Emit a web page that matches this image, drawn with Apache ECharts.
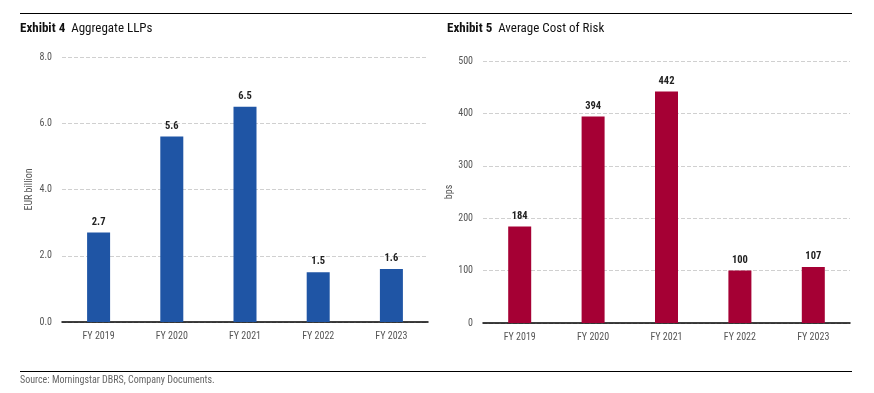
<!DOCTYPE html>
<html><head><meta charset="utf-8">
<script src="https://cdn.jsdelivr.net/npm/echarts@6/dist/echarts.min.js"></script>
<style>html,body{margin:0;padding:0;background:#fff}#c{width:874px;height:393px}</style>
</head><body><div id="c"></div>
<script>
const categories = ['FY 2019','FY 2020','FY 2021','FY 2022','FY 2023'];
const llpValues = [2.7, 5.6, 6.5, 1.5, 1.6];
const corValues = [184, 394, 442, 100, 107];
const llpTicks = {min:0, max:8, interval:2};
const corTicks = {min:0, max:500, interval:100};

const FONT = '"Liberation Sans Narrow","Roboto Condensed","Liberation Sans",sans-serif';
const chart = echarts.init(document.getElementById('c'), null, {renderer:'canvas'});
const axisLabel = {color:'#555', fontSize:10, fontFamily:FONT};
const splitLine = {show:true, lineStyle:{color:'#d0d0d0', type:'dashed', width:1}};
function xAx(i){return {type:'category', gridIndex:i, data:categories,
  axisLine:{lineStyle:{color:'#000', width:1.5}}, axisTick:{show:false},
  axisLabel:Object.assign({margin:9}, axisLabel)};}
chart.setOption({
  animation:false,
  grid:[{left:62, right:446, top:57, bottom:71},
        {left:483, right:24, top:61, bottom:70}],
  xAxis:[xAx(0), xAx(1)],
  yAxis:[
    Object.assign({type:'value', gridIndex:0, name:'EUR billion', nameLocation:'middle', nameGap:28,
      nameTextStyle:{color:'#555', fontSize:10, fontFamily:FONT},
      axisLine:{show:false}, axisTick:{show:false}, splitLine,
      axisLabel:Object.assign({formatter:v=>v.toFixed(1), margin:10}, axisLabel)}, llpTicks),
    Object.assign({type:'value', gridIndex:1, name:'bps', nameLocation:'middle', nameGap:28,
      nameTextStyle:{color:'#555', fontSize:10, fontFamily:FONT},
      axisLine:{show:false}, axisTick:{show:false}, splitLine,
      axisLabel:Object.assign({margin:10}, axisLabel)}, corTicks)
  ],
  series:[
    {type:'bar', xAxisIndex:0, yAxisIndex:0, data:llpValues, barWidth:23,
     itemStyle:{color:'#1f55a5'},
     label:{show:true, position:'top', distance:5, color:'#222', fontWeight:'bold', fontSize:10.5, fontFamily:FONT, formatter:p=>p.value.toFixed(1)}},
    {type:'bar', xAxisIndex:1, yAxisIndex:1, data:corValues, barWidth:23,
     itemStyle:{color:'#a50034'},
     label:{show:true, position:'top', distance:5, color:'#222', fontWeight:'bold', fontSize:10.5, fontFamily:FONT}}
  ],
  graphic:[
    {type:'line', shape:{x1:20,y1:13.5,x2:852,y2:13.5}, style:{stroke:'#000', lineWidth:1.2}},
    {type:'line', shape:{x1:20,y1:371.5,x2:852,y2:371.5}, style:{stroke:'#000', lineWidth:1.2}},
    {type:'text', left:20, top:22, style:{rich:{b:{fontWeight:'bold', fontSize:13, fill:'#111', fontFamily:FONT}, n:{fontSize:13, fill:'#111', fontFamily:FONT}}, text:'{b|Exhibit 4}{n|  Aggregate LLPs}'}},
    {type:'text', left:447, top:22, style:{rich:{b:{fontWeight:'bold', fontSize:13, fill:'#111', fontFamily:FONT}, n:{fontSize:13, fill:'#111', fontFamily:FONT}}, text:'{b|Exhibit 5}{n|  Average Cost of Risk}'}},
    {type:'text', left:20, top:375, style:{text:'Source: Morningstar DBRS, Company Documents.', fontSize:10, fill:'#666', fontFamily:FONT}}
  ]
});
</script></body></html>
